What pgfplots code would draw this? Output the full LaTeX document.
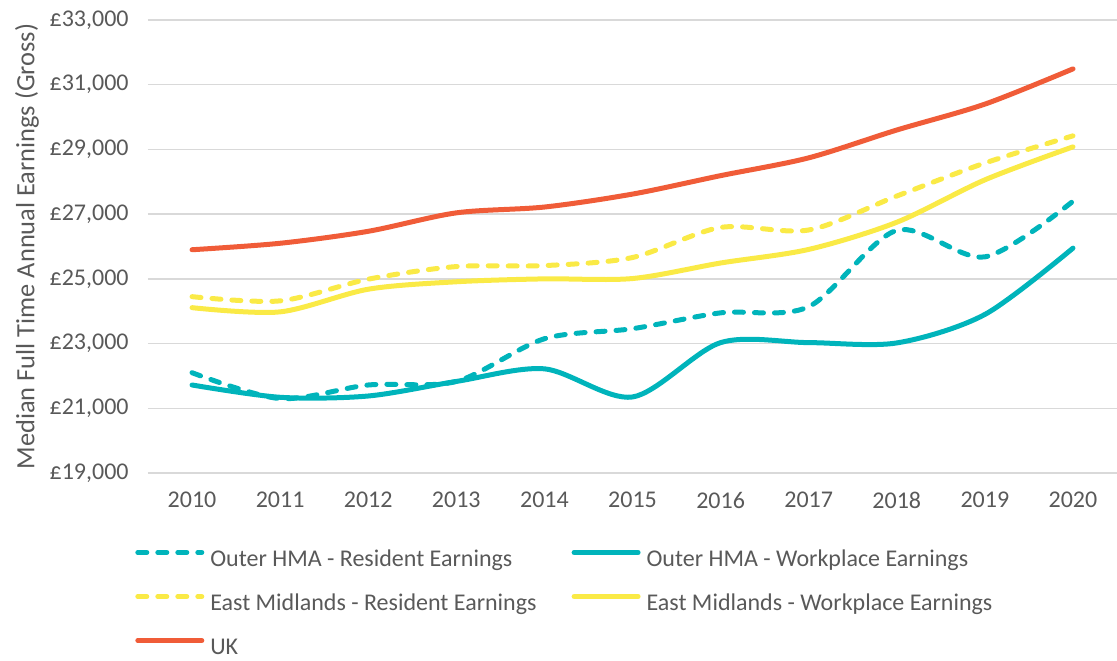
\documentclass[border=0pt]{standalone}
\usepackage{pgfplots}
\pgfplotsset{compat=1.18}
\usepackage{fontspec}
\setmainfont{Carlito}
\definecolor{teal}{RGB}{0,180,187}
\definecolor{yel}{RGB}{250,234,70}
\definecolor{ukred}{RGB}{240,92,56}
\definecolor{txt}{RGB}{89,89,89}
\definecolor{grd}{RGB}{217,217,217}
\begin{document}
\begin{tikzpicture}
\path[use as bounding box] (0,0) rectangle (558.5pt,330pt);
\begin{axis}[
  at={(74pt,93.5pt)}, anchor=south west,
  scale only axis, width=484.5pt, height=226.5pt,
  xmin=2009.5, xmax=2020.5, ymin=19000, ymax=33000,
  scaled x ticks=false, scaled y ticks=false,
  xtick={2010,2011,2012,2013,2014,2015,2016,2017,2018,2019,2020},
  xticklabels={2010,2011,2012,2013,2014,2015,2016,2017,2018,2019,2020},
  ytick={19000,21000,23000,25000,27000,29000,31000,33000},
  yticklabels={{£19,000},{£21,000},{£23,000},{£25,000},{£27,000},{£29,000},{£31,000},{£33,000}},
  axis line style={draw=none}, major tick length=0pt,
  ymajorgrids, grid style={grd, line width=0.7pt},
  tick label style={font=\fontsize{12pt}{14pt}\selectfont, text=txt},
  yticklabel style={inner sep=0pt, xshift=-9.5pt},
  xticklabel style={inner sep=0pt, yshift=-9.5pt},
  ylabel={Median Full Time Annual Earnings (Gross)},
  every axis y label/.style={at={(axis description cs:-0.125,0.5)}, anchor=center, rotate=90, font=\fontsize{13.2pt}{15pt}\selectfont, text=txt},
  legend columns=2,
  legend cell align=left,
  legend style={at={(axis description cs:-0.0197,-0.1568)}, anchor=north west, draw=none, fill=none,
    font=\fontsize{12pt}{14pt}\selectfont, text=txt,
    nodes={inner sep=0pt, text height=9pt, text depth=1pt},
    row sep=12.05pt,
    /tikz/every odd column/.append style={column sep=3pt},
    /tikz/every even column/.append style={column sep=17.5pt}},
  legend image code/.code={\draw[#1] (0pt,3pt) -- (32pt,3pt);},
  every axis plot/.append style={line width=2.5pt, smooth, tension=0.5, line cap=round},
]
\addplot[teal, dash pattern=on 4.5pt off 5.5pt] coordinates {
(2010,22100) (2011,21300) (2012,21720) (2013,21830) (2014,23150) (2015,23460) (2016,23950) (2017,24140) (2018,26500) (2019,25680) (2020,27400)};
\addlegendentry{Outer HMA - Resident Earnings}
\addplot[teal] coordinates {
(2010,21720) (2011,21340) (2012,21380) (2013,21830) (2014,22220) (2015,21350) (2016,23030) (2017,23030) (2018,23020) (2019,23900) (2020,25950)};
\addlegendentry{Outer HMA - Workplace Earnings}
\addplot[yel, dash pattern=on 4.5pt off 5.5pt] coordinates {
(2010,24450) (2011,24320) (2012,24990) (2013,25380) (2014,25410) (2015,25660) (2016,26590) (2017,26510) (2018,27560) (2019,28580) (2020,29420)};
\addlegendentry{East Midlands - Resident Earnings}
\addplot[yel] coordinates {
(2010,24110) (2011,23980) (2012,24680) (2013,24910) (2014,25000) (2015,25010) (2016,25490) (2017,25910) (2018,26750) (2019,28060) (2020,29080)};
\addlegendentry{East Midlands - Workplace Earnings}
\addplot[ukred] coordinates {
(2010,25900) (2011,26100) (2012,26470) (2013,27040) (2014,27220) (2015,27620) (2016,28190) (2017,28740) (2018,29600) (2019,30400) (2020,31490)};
\addlegendentry{UK}
\end{axis}
\end{tikzpicture}
\end{document}
